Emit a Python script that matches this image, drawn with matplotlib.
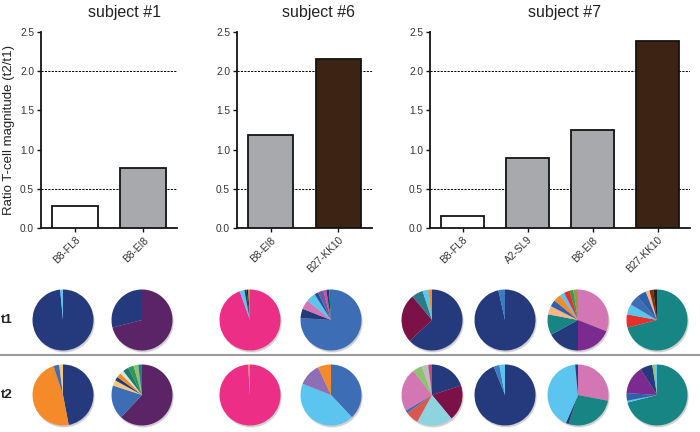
import numpy as np
import matplotlib
matplotlib.use('Agg')
import matplotlib.pyplot as plt
from matplotlib.patches import Circle
from matplotlib.lines import Line2D

plt.rcParams['font.family'] = ['Liberation Sans', 'DejaVu Sans']

# ratio of T-cell magnitude t2/t1 per epitope
subjects = ['subject #1', 'subject #6', 'subject #7']
s1_labels = ['B8-FL8', 'B8-EI8']
s1_ratio = [0.28, 0.76]
s6_labels = ['B8-EI8', 'B27-KK10']
s6_ratio = [1.18, 2.15]
s7_labels = ['B8-FL8', 'A2-SL9', 'B8-EI8', 'B27-KK10']
s7_ratio = [0.15, 0.89, 1.25, 2.38]
ref_lines = [0.5, 2.0]

# clonotype shares (%), clockwise from 12 o'clock, one pie per epitope
t1_fracs = [
    [98.5, 1.5],
    [71, 29],
    [94.5, 2.5, 1.2, 0.8, 1.0],
    [76, 5, 5, 5, 2, 3, 1.5, 1.5, 1],
    [63, 26, 6, 3, 2],
    [96.5, 3.5],
    [31, 19, 17, 11, 4.5, 3.5, 4, 2.5, 3, 2, 2.5],
    [71, 7, 5.5, 5.5, 5, 2, 2, 2],
]
t2_fracs = [
    [47, 48, 3, 2],
    [62, 18, 3, 2, 2.5, 2, 3, 3, 2.5, 2],
    [99, 1],
    [38, 43, 12, 7],
    [20, 19, 19, 7, 1.5, 23, 5, 3.5, 2],
    [94, 3, 3],
    [28, 27, 1.5, 42, 1.5],
    [71, 1, 4, 15, 6.5, 1.5, 1],
]

navy = '#243a7c'
lblue = '#5bc5ef'
purple = '#5b2467'
orange = '#f58a2a'
steel = '#3d6db5'
beige = '#f5c67f'
pink = '#ec2e86'
mauve = '#d576b4'
lavender = '#8e6fb6'
maroon = '#7b1146'
teal = '#178583'
dteal = '#2b7a8a'
violet = '#7b2a8f'
peach = '#f7b58a'
red = '#e5302b'
coral = '#d85a4e'
cyan = '#8ed3e0'
lgreen = '#8fc26e'
grey = '#bdbdbd'
blue2 = '#2e61ad'
green = '#2e9a5a'

t1_colors = [
    [navy, lblue],
    [purple, navy],
    [pink, lblue, navy, '#222222', '#c98a2a'],
    [steel, navy, mauve, lblue, '#2d4d9a', '#6a5aa8', '#d64a9c', navy, teal],
    [navy, maroon, dteal, lblue, orange],
    [navy, '#3a7cc2'],
    [mauve, violet, navy, teal, peach, blue2, orange, lblue, red, green, '#9a9a3a'],
    [teal, red, lblue, steel, blue2, peach, '#8a2a10', '#222222'],
]
t2_colors = [
    [navy, orange, steel, beige],
    [purple, steel, beige, navy, orange, '#cfe8df', '#1f7a6a', green, lgreen, dteal],
    [pink, '#f4876a'],
    [steel, lblue, lavender, orange],
    [navy, maroon, cyan, coral, steel, mauve, lgreen, grey, '#c2487e'],
    [navy, '#3a7cc2', lblue],
    [mauve, teal, navy, lblue, navy],
    [teal, lblue, blue2, violet, navy, lgreen, lblue],
]

W, H = 700, 432
fig = plt.figure(figsize=(7, 4.32), dpi=100)


def rect_px(x0, y0, x1, y1):
    # pixel box (top-left origin) -> figure fraction rect
    return [x0 / W, 1 - y1 / H, (x1 - x0) / W, (y1 - y0) / H]


white, gry, brown = 'white', '#a7a9ac', '#3d2314'
panels = [
    (rect_px(41, 32, 177, 228), s1_labels, s1_ratio, [white, gry], 125),
    (rect_px(237, 32, 372, 228), s6_labels, s6_ratio, [gry, brown], 318),
    (rect_px(430, 32, 690, 228), s7_labels, s7_ratio, [white, gry, gry, brown], 565),
]

for i, (rect, labels, vals, cols, tx) in enumerate(panels):
    ax = fig.add_axes(rect)
    x = np.arange(len(labels))
    ax.bar(x, vals, width=0.67, color=cols, edgecolor='#141414', linewidth=1.3, zorder=3)
    for r in ref_lines:
        ax.axhline(r, color='black', lw=0.7, ls=(0, (2.2, 1.3)), zorder=1)
    ax.set_xlim(-0.5, len(labels) - 0.5)
    ax.set_ylim(0, 2.5)
    ax.set_yticks([0, 0.5, 1.0, 1.5, 2.0, 2.5])
    ax.set_yticklabels(['0.0', '0.5', '1.0', '1.5', '2.0', '2.5'])
    ax.set_xticks(x)
    ax.set_xticklabels(labels, rotation=45, ha='right', rotation_mode='anchor')
    ax.tick_params(axis='both', labelsize=7.3, colors='#141414', labelcolor='#333333',
                   width=1, length=3, pad=2)
    for s in ('top', 'right'):
        ax.spines[s].set_visible(False)
    for s in ('left', 'bottom'):
        ax.spines[s].set_linewidth(1.3)
        ax.spines[s].set_color('#141414')
    if i == 0:
        ax.set_ylabel('Ratio T-cell magnitude (t2/t1)', fontsize=9.5, color='#222222')
        ax.yaxis.set_label_coords(-0.19, 0.5)
    fig.text(tx / W, 1 - 13 / H, subjects[i], fontsize=11.5, color='#222222',
             ha='center', va='center')

# pies
pie_x = [63, 142, 250, 331, 432, 505, 578, 657]
rows = [(320, t1_fracs, t1_colors, 't1'), (395, t2_fracs, t2_colors, 't2')]
R = 30.5
for cy, fracs, colors, name in rows:
    fig.text(1 / W, 1 - cy / H, name, fontsize=9.5, fontweight='bold', color='#222222',
             ha='left', va='center')
    for cx, fr, cl in zip(pie_x, fracs, colors):
        pax = fig.add_axes(rect_px(cx - 1.15 * R, cy - 1.15 * R, cx + 1.15 * R, cy + 1.15 * R))
        pax.add_patch(Circle((0.04, -0.07), 1.0, color='#9a9a9a', alpha=0.25, lw=0, zorder=0))
        pax.add_patch(Circle((0.03, -0.05), 1.0, color='#9a9a9a', alpha=0.3, lw=0, zorder=0))
        pax.pie(fr, colors=cl, startangle=90, counterclock=False,
                wedgeprops=dict(linewidth=0), radius=1.0)
        pax.set_xlim(-1.15, 1.15)
        pax.set_ylim(-1.15, 1.15)
        pax.set_aspect('equal')
        pax.axis('off')

# separator between t1 and t2
fig.add_artist(Line2D([0, 1], [1 - 355 / H, 1 - 355 / H], color='#9b9b9b', lw=1.5,
                      transform=fig.transFigure))

fig.savefig('out.png', dpi=100)
